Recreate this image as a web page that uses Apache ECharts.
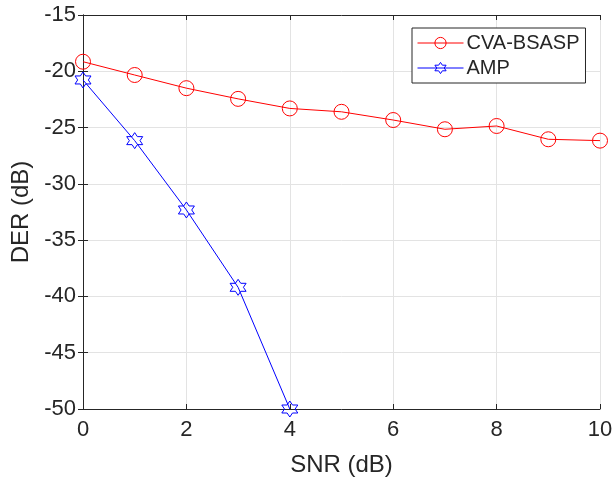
<!DOCTYPE html>
<html>
<head>
<meta charset="utf-8">
<script src="https://cdn.jsdelivr.net/npm/echarts@6/dist/echarts.min.js"></script>
<style>
  html, body { margin: 0; padding: 0; background: #fff; }
  #chart { width: 613px; height: 479px; }
</style>
</head>
<body>
<div id="chart"></div>
<script>
const snr = [0, 1, 2, 3, 4, 5, 6, 7, 8, 9, 10];
const cvaBsasp = [-19.15, -20.33, -21.5, -22.45, -23.3, -23.6, -24.33, -25.15, -24.86, -26.04, -26.16];
const ampSnr = [0, 1, 2, 3, 4];
const amp = [-20.77, -26.16, -32.32, -39.19, -50.0];

// six-pointed star outline
function hexagramPath() {
  const pts = [];
  for (let i = 0; i < 12; i++) {
    const a = (-90 + i * 30) * Math.PI / 180;
    const r = i % 2 === 0 ? 10 : 5.77;
    pts.push((10 + r * Math.cos(a)).toFixed(2) + ' ' + (10 + r * Math.sin(a)).toFixed(2));
  }
  return 'path://M' + pts.join(' L') + ' Z';
}

const chart = echarts.init(document.getElementById('chart'));
const txt = '#262626';
const font = 'Liberation Sans, Arial, sans-serif';

const axisBase = {
  axisLine: { show: true, lineStyle: { color: txt, width: 1 } },
  axisTick: { show: true, inside: true, length: 5, lineStyle: { color: txt } },
  splitLine: { show: false },
  axisLabel: { show: false }
};

chart.setOption({
  animation: false,
  textStyle: { fontFamily: font },
  grid: { left: 83, right: 13, top: 15, bottom: 70, outerBoundsMode: 'none', containLabel: false },
  legend: {
    left: 412,
    top: 28,
    orient: 'vertical',
    backgroundColor: '#fff',
    borderColor: txt,
    borderWidth: 1,
    borderRadius: 0,
    padding: [5, 6, 5, 5],
    itemGap: 5,
    itemWidth: 46,
    itemHeight: 14,
    lineStyle: { width: 1 },
    itemStyle: { borderWidth: 1 },
    textStyle: { fontSize: 20, color: txt, fontFamily: font, padding: [0, 0, 0, -2] },
    data: ['CVA-BSASP', 'AMP']
  },
  xAxis: [
    Object.assign({}, axisBase, {
      type: 'value', min: 0, max: 10, interval: 2,
      name: 'SNR (dB)', nameLocation: 'middle', nameGap: 44,
      nameTextStyle: { fontSize: 24, color: txt, fontFamily: font },
      axisLabel: { show: true, fontSize: 22, color: txt, margin: 10, fontFamily: font },
      splitLine: { show: true, lineStyle: { color: '#e3e3e3' } }
    }),
    Object.assign({}, axisBase, { type: 'value', min: 0, max: 10, interval: 2, position: 'top' })
  ],
  yAxis: [
    Object.assign({}, axisBase, {
      type: 'value', min: -50, max: -15, interval: 5,
      name: 'DER (dB)', nameLocation: 'middle', nameGap: 46,
      nameTextStyle: { fontSize: 24, color: txt, fontFamily: font },
      axisLabel: { show: true, fontSize: 22, color: txt, margin: 7, fontFamily: font },
      splitLine: { show: true, lineStyle: { color: '#e3e3e3' } }
    }),
    Object.assign({}, axisBase, { type: 'value', min: -50, max: -15, interval: 5, position: 'right' })
  ],
  series: [
    {
      name: 'CVA-BSASP',
      type: 'line',
      data: snr.map((x, i) => [x, cvaBsasp[i]]),
      symbol: 'circle',
      symbolSize: 15,
      lineStyle: { color: '#ff0000', width: 1 },
      itemStyle: { color: 'rgba(255,255,255,0)', borderColor: '#ff0000', borderWidth: 1 },
      z: 3
    },
    {
      name: 'AMP',
      type: 'line',
      data: ampSnr.map((x, i) => [x, amp[i]]),
      symbol: hexagramPath(),
      symbolSize: 16,
      lineStyle: { color: '#0000ff', width: 1 },
      itemStyle: { color: 'rgba(255,255,255,0)', borderColor: '#0000ff', borderWidth: 1 },
      z: 4
    }
  ]
});
</script>
</body>
</html>
